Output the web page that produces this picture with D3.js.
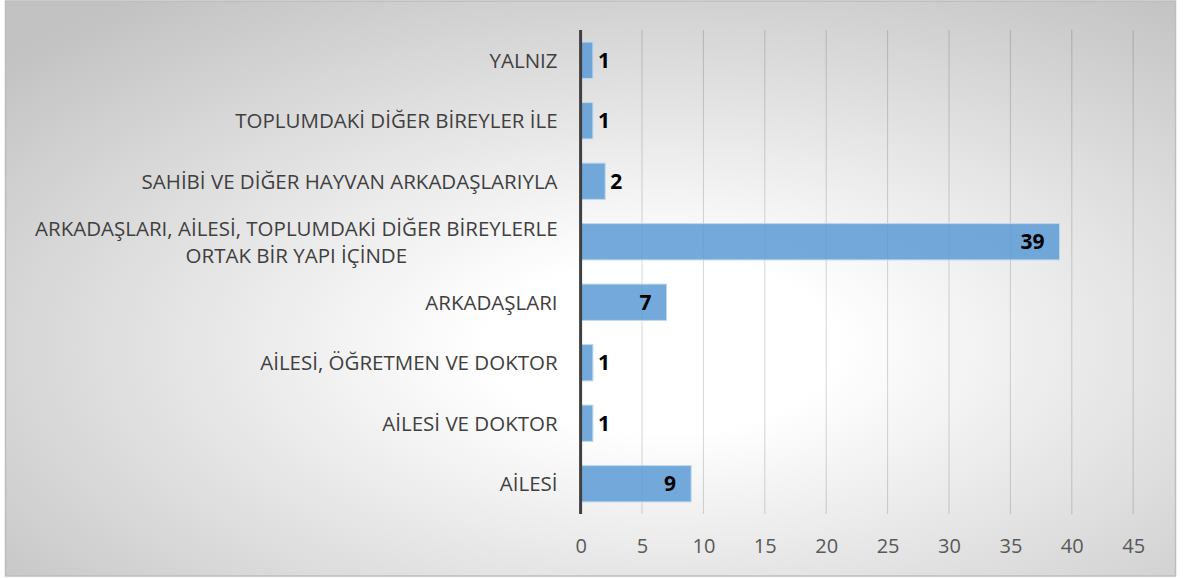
<!DOCTYPE html>
<html>
<head>
<meta charset="utf-8">
<script src="https://cdn.jsdelivr.net/npm/d3@7"></script>
<style>
  body { margin: 0; background: #fff; }
  svg { display: block; font-family: "Open Sans", "Noto Sans", sans-serif; }
</style>
</head>
<body>
<svg width="1184" height="578"></svg>
<script>
// categories bottom to top, as in the picture
const categories = [
    "AİLESİ",
    "AİLESİ VE DOKTOR",
    "AİLESİ, ÖĞRETMEN VE DOKTOR",
    "ARKADAŞLARI",
    "ARKADAŞLARI, AİLESİ, TOPLUMDAKİ DİĞER BİREYLERLE ORTAK BİR YAPI İÇİNDE",
    "SAHİBİ VE DİĞER HAYVAN ARKADAŞLARIYLA",
    "TOPLUMDAKİ DİĞER BİREYLER İLE",
    "YALNIZ"
];
const values = [9, 1, 1, 7, 39, 2, 1, 1];
const xTicks = [0, 5, 10, 15, 20, 25, 30, 35, 40, 45];

var svg = d3.select("svg");

var plotLeft = 580.6, plotRight = 1133.2, plotTop = 30, plotBottom = 514;

// background with radial gradient
var defs = svg.append("defs");
var grad = defs.append("radialGradient")
    .attr("id", "bg")
    .attr("cx", "0.56").attr("cy", "0.6").attr("r", "0.75");
grad.append("stop").attr("offset", "0").attr("stop-color", "#ffffff");
grad.append("stop").attr("offset", "0.2").attr("stop-color", "#ffffff");
grad.append("stop").attr("offset", "1").attr("stop-color", "#c2c2c2");

svg.append("rect")
    .attr("x", 5.5).attr("y", 1).attr("width", 1170).attr("height", 575)
    .attr("fill", "url(#bg)")
    .attr("stroke", "#bdbdbd").attr("stroke-width", 1.5);

var x = d3.scaleLinear().domain([0, 45]).range([plotLeft, plotRight]);
var y = d3.scaleBand()
    .domain(categories.slice().reverse())
    .range([plotTop, plotBottom])
    .paddingInner(0.4).paddingOuter(0.2);

// vertical gridlines
svg.append("g")
    .selectAll("line")
    .data(xTicks.slice(1))
    .enter().append("line")
    .attr("x1", function (d) { return x(d); })
    .attr("x2", function (d) { return x(d); })
    .attr("y1", plotTop).attr("y2", plotBottom)
    .attr("stroke", "#000").attr("stroke-opacity", 0.16);

// x axis labels
var xAxis = svg.append("g")
    .attr("transform", "translate(0," + plotBottom + ")")
    .call(d3.axisBottom(x).tickValues(xTicks).tickSize(0).tickPadding(25));
xAxis.select(".domain").remove();
xAxis.selectAll("text")
    .attr("font-family", "Open Sans, sans-serif")
    .attr("font-size", 20)
    .attr("fill", "#595959");

// bars
svg.append("g")
    .selectAll("rect")
    .data(values)
    .enter().append("rect")
    .attr("x", x(0))
    .attr("y", function (d, i) { return y(categories[i]); })
    .attr("width", function (d) { return x(d) - x(0); })
    .attr("height", y.bandwidth())
    .attr("fill", "#5b9bd5").attr("fill-opacity", 0.85)
    .attr("stroke", "#bdd7ee").attr("stroke-width", 1);

// value labels
svg.append("g")
    .selectAll("text")
    .data(values)
    .enter().append("text")
    .attr("x", function (d) {
        var w = x(d) - x(0);
        return w > 40 ? x(d) - 15 : x(d) + 5;
    })
    .attr("y", function (d, i) { return y(categories[i]) + y.bandwidth() / 2; })
    .attr("dy", "0.36em")
    .attr("text-anchor", function (d) { return x(d) - x(0) > 40 ? "end" : "start"; })
    .attr("font-size", 21)
    .attr("font-weight", "bold")
    .attr("fill", "#000")
    .text(function (d) { return d; });

// y axis line
svg.append("line")
    .attr("x1", plotLeft).attr("x2", plotLeft)
    .attr("y1", plotTop).attr("y2", plotBottom)
    .attr("stroke", "#404040").attr("stroke-width", 3);

// category labels, wrapped; wrapped lines are centred on each other
var maxW = 545, labelRight = plotLeft - 23;
var labels = svg.append("g")
    .selectAll("text")
    .data(categories)
    .enter().append("text")
    .attr("font-size", 20.5)
    .attr("fill", "#404040");

labels.each(function (d) {
    var t = d3.select(this);
    var words = d.split(" "), lines = [], line = [];
    var probe = t.append("tspan");
    var widest = 0;
    words.forEach(function (w) {
        line.push(w);
        probe.text(line.join(" "));
        if (probe.node().getComputedTextLength() > maxW && line.length > 1) {
            line.pop();
            lines.push(line.join(" "));
            line = [w];
        }
    });
    lines.push(line.join(" "));
    lines.forEach(function (l) {
        probe.text(l);
        widest = Math.max(widest, probe.node().getComputedTextLength());
    });
    probe.remove();
    var lh = 27;
    var cy = y(d) + y.bandwidth() / 2;
    var cx = labelRight - widest / 2;
    lines.forEach(function (l, k) {
        t.append("tspan")
            .attr("x", lines.length > 1 ? cx : labelRight)
            .attr("text-anchor", lines.length > 1 ? "middle" : "end")
            .attr("y", cy + (k - (lines.length - 1) / 2) * lh)
            .attr("dy", "0.36em")
            .text(l);
    });
});
</script>
</body>
</html>
